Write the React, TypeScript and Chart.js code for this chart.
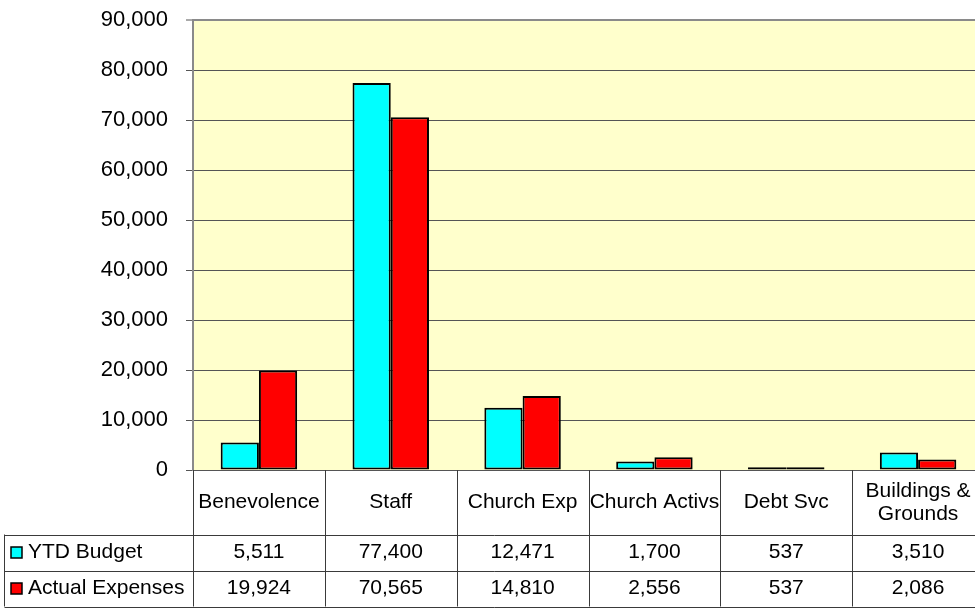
import React, { useEffect, useRef } from "react";
import { Chart, registerables } from "chart.js";

Chart.register(...registerables);

const categories: (string | string[])[] = [
  "Benevolence",
  "Staff",
  "Church Exp",
  "Church Activs",
  "Debt Svc",
  ["Buildings &", "Grounds"],
];
const seriesNames = ["YTD Budget", "Actual Expenses"];
const ytdBudget = [5511, 77400, 12471, 1700, 537, 3510];
const actualExpenses = [19924, 70565, 14810, 2556, 537, 2086];
const seriesColors = ["#00FFFF", "#FF0000"];
const yMax = 90000;
const yStep = 10000;

const FONT = '"Liberation Sans", Arial, sans-serif';
const fmt = (v: number) => v.toLocaleString("en-US");

const tablePlugin = {
  id: "dataTable",
  beforeDraw(chart: any) {
    const { ctx, chartArea } = chart;
    const { left, top, right, bottom } = chartArea;
    ctx.save();
    ctx.fillStyle = "#FFFFCC";
    ctx.fillRect(left, top, right - left, bottom - top);
    ctx.restore();
  },
  afterDraw(chart: any) {
    const { ctx, chartArea } = chart;
    const { left, right, bottom } = chartArea;
    const n = categories.length;
    const w = (right - left) / n;
    const headerBottom = bottom + 64.5;
    const rowH = 36;
    const rows = [ytdBudget, actualExpenses];
    const tableBottom = headerBottom + rowH * rows.length;
    const tableLeft = 4.5;

    ctx.save();
    ctx.strokeStyle = "#3a3a3a";
    ctx.lineWidth = 1;
    for (let i = 0; i <= n; i++) {
      const x = Math.round(left + i * w) + 0.5;
      ctx.beginPath();
      ctx.moveTo(x, bottom);
      ctx.lineTo(x, tableBottom);
      ctx.stroke();
    }
    ctx.beginPath();
    ctx.moveTo(tableLeft, headerBottom);
    ctx.lineTo(tableLeft, tableBottom);
    ctx.stroke();
    for (let r = 0; r <= rows.length; r++) {
      const y = Math.round(headerBottom + r * rowH) + 0.5;
      ctx.beginPath();
      ctx.moveTo(tableLeft, y);
      ctx.lineTo(right, y);
      ctx.stroke();
    }

    ctx.fillStyle = "#000";
    ctx.font = `21px ${FONT}`;
    ctx.textAlign = "center";
    ctx.textBaseline = "middle";
    const hc = (bottom + headerBottom) / 2;
    const lh = 23;
    categories.forEach((lab, i) => {
      const lines = Array.isArray(lab) ? lab : [lab];
      const cx = left + (i + 0.5) * w;
      lines.forEach((t, k) => {
        ctx.fillText(t, cx, hc - ((lines.length - 1) * lh) / 2 + k * lh);
      });
    });
    rows.forEach((vals, r) => {
      const cy = headerBottom + (r + 0.5) * rowH;
      vals.forEach((v, i) => {
        ctx.fillText(fmt(v), left + (i + 0.5) * w, cy);
      });
      const ks = 11;
      ctx.fillStyle = seriesColors[r];
      ctx.fillRect(11, cy - ks / 2, ks, ks);
      ctx.strokeStyle = "#000";
      ctx.lineWidth = 1.5;
      ctx.strokeRect(11, cy - ks / 2, ks, ks);
      ctx.fillStyle = "#000";
      ctx.textAlign = "left";
      ctx.fillText(seriesNames[r], 28, cy);
      ctx.textAlign = "center";
    });
    ctx.restore();
  },
};

export default function App() {
  const ref = useRef<HTMLCanvasElement | null>(null);
  useEffect(() => {
    if (!ref.current) return;
    const chart = new Chart(ref.current, {
      type: "bar",
      data: {
        labels: categories as any,
        datasets: [
          {
            label: seriesNames[0],
            data: ytdBudget,
            backgroundColor: seriesColors[0],
            borderColor: "#000",
            borderWidth: 2,
            borderSkipped: false,
          },
          {
            label: seriesNames[1],
            data: actualExpenses,
            backgroundColor: seriesColors[1],
            borderColor: "#000",
            borderWidth: 2,
            borderSkipped: false,
          },
        ],
      },
      options: {
        responsive: false,
        animation: false,
        layout: { padding: { left: 0, top: 20, right: 16, bottom: 138 } },
        datasets: {
          bar: { categoryPercentage: 0.58, barPercentage: 1 },
        },
        plugins: {
          legend: { display: false },
          tooltip: { enabled: false },
          title: { display: false },
        },
        scales: {
          x: { display: false },
          y: {
            min: 0,
            max: yMax,
            afterFit: (s: any) => {
              s.width = 193;
              s.paddingTop = 0;
              s.paddingBottom = 0;
            },
            ticks: {
              stepSize: yStep,
              padding: 18,
              color: "#000",
              font: { family: FONT, size: 22 },
              callback: (v: any) => fmt(Number(v)),
            },
            grid: {
              color: (c: any) => (c.tick && c.tick.value === yMax ? "#8a8a8a" : "#555555"),
              lineWidth: (c: any) => (c.tick && c.tick.value === yMax ? 2 : 1),
              tickLength: 7,
              tickColor: "#555",
              tickWidth: 1,
            },
            border: { display: true, color: "#8a8a8a", width: 2 },
          },
        },
      },
      plugins: [tablePlugin],
    });
    return () => chart.destroy();
  }, []);

  return (
    <div
      style={{
        position: "fixed",
        left: 0,
        top: 0,
        width: 975,
        height: 608,
        overflow: "hidden",
        background: "#fff",
      }}
    >
      <canvas ref={ref} width={1000} height={608} style={{ width: 1000, height: 608, display: "block" }} />
    </div>
  );
}
